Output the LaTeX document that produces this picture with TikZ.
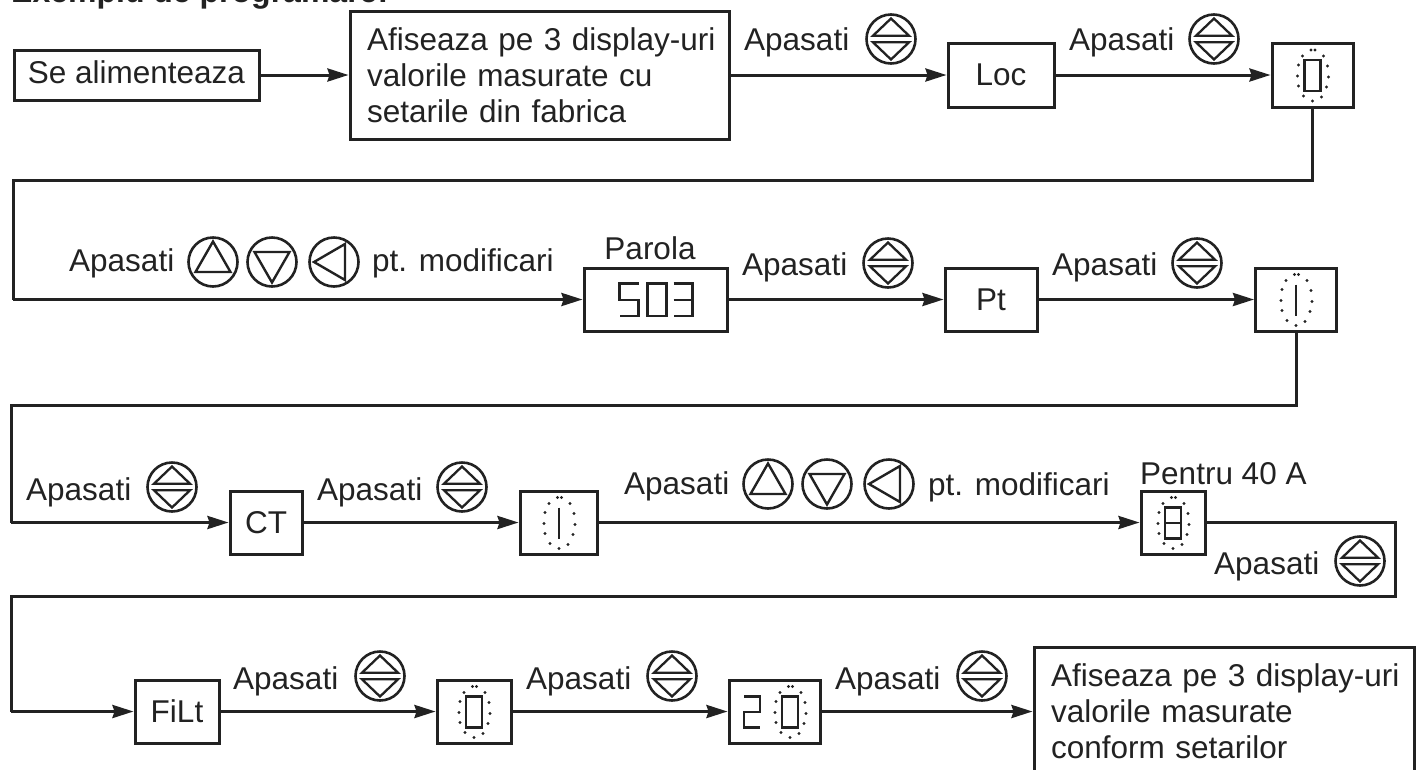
\documentclass[tikz,border=0pt]{standalone}
\usepackage{fontspec}
\setmainfont{Liberation Sans}
\usetikzlibrary{arrows.meta}
\definecolor{ink}{HTML}{222222}
\newcommand{\mainsize}{\fontsize{31.5}{36}\selectfont}
\tikzset{
  x=1pt,y=-1pt,
  every node/.style={text=ink,inner sep=0pt},
  linew/.style={line width=3pt,draw=ink,line join=miter},
  conn/.style={linew,-{Stealth[length=21pt,width=13pt,inset=2pt]}},
  wire/.style={linew},
  boxn/.style={linew,rectangle,font=\mainsize,align=left,anchor=center},
  lbl/.style={anchor=base west,font=\mainsize},
  pics/updown/.style={code={
    \draw[ink,line width=2.6pt] (0,0) circle[radius=24.5];
    \draw[ink,line width=2.3pt,line join=miter] (-18,-3.3) -- (18,-3.3) -- (0,-20.5) -- cycle;
    \draw[ink,line width=2.3pt,line join=miter] (-18,3.3) -- (18,3.3) -- (0,20.5) -- cycle;}},
  pics/upb/.style={code={
    \draw[ink,line width=2.6pt] (0,0) circle[radius=24.5];
    \draw[ink,line width=2.4pt,line join=miter] (-17.5,10) -- (17.5,10) -- (0,-20.5) -- cycle;}},
  pics/downb/.style={code={
    \draw[ink,line width=2.6pt] (0,0) circle[radius=24.5];
    \draw[ink,line width=2.4pt,line join=miter] (-17.5,-10) -- (17.5,-10) -- (0,20.5) -- cycle;}},
  pics/leftb/.style={code={
    \draw[ink,line width=2.6pt] (0,0) circle[radius=24.5];
    \draw[ink,line width=2.4pt,line join=miter] (11,-18) -- (11,18) -- (-20,0) -- cycle;}},
  pics/ring/.style={code={
    \foreach \dx/\dy in {-1.5/-25,2.5/-25,-10/-19,11/-19,-14/-10,15/-9,-15/1,16/2,-14/11,14/12,-9/21,9/22,0/26}
      \fill[ink] (\dx,\dy) circle[radius=1.7];}},
  seg/.style={draw=ink,line width=2.6pt,line join=miter},
  pics/dzero/.style={code={\draw[seg] (-8,-15) rectangle (8,16);}},
  pics/done/.style={code={\draw[seg] (0,-15) -- (0,16);}},
  pics/deight/.style={code={\draw[seg] (-8,-15) rectangle (8,16) (-8,0.5) -- (8,0.5);}},
  pics/dtwo/.style={code={\draw[seg] (-8,-15) -- (8,-15) -- (8,0.5) -- (-8,0.5) -- (-8,16) -- (8,16);}},
  pics/dfive/.style={code={\draw[seg] (9.5,-16) -- (-9.5,-16) -- (-9.5,0.5) -- (9.5,0.5) -- (9.5,16.5) -- (-9.5,16.5);}},
  pics/dzerob/.style={code={\draw[seg] (-9.5,-16) rectangle (9.5,16.5);}},
  pics/dthree/.style={code={\draw[seg] (-9.5,-16) -- (9.5,-16) -- (9.5,16.5) -- (-9.5,16.5) (-9.5,0.5) -- (9.5,0.5);}},
}
\begin{document}
\begin{tikzpicture}
\useasboundingbox (0,0) rectangle (1418,769);
\clip (0,0) rectangle (1418,769);
% title
\node[anchor=base west,font=\fontsize{32}{36}\selectfont\bfseries] (title) at (11,2) {Exemplu de programare:};
% row 1
\node[boxn,minimum width=245pt,minimum height=50pt,text height=24pt,text depth=8pt] (a1) at (136.5,75) {Se alimenteaza};
\node[boxn,minimum width=379pt,minimum height=128pt,text width=345pt] (a2) at (539.5,75) {\mbox{Afiseaza pe 3 display-uri}\\valorile masurate cu\\setarile din fabrica};
\node[boxn,minimum width=106pt,minimum height=64pt] (a3) at (1001,75) {Loc};
\node[boxn,minimum width=81pt,minimum height=64pt] (a4) at (1312.5,75) {};
\pic at (1312.5,75) {ring}; \pic at (1312.5,75) {dzero};
\draw[conn] (a1) -- (a2);
\draw[conn] (a2) -- (a3);
\draw[conn] (a3) -- (a4);
\node[lbl] (t1) at (744,50) {Apasati};
\pic at (891,39) {updown};
\node[lbl] (t2) at (1069,50) {Apasati};
\pic at (1214,39) {updown};
% row 2
\coordinate (c1) at (1312.5,180);
\coordinate (c2) at (13,180);
\coordinate (c3) at (13,299.5);
\node[boxn,minimum width=143pt,minimum height=63pt] (b1) at (655.5,299.5) {};
\pic at (629,299.5) {dfive}; \pic at (657,299.5) {dzerob}; \pic at (683,299.5) {dthree};
\node[anchor=base,font=\mainsize] (parola) at (650,259) {Parola};
\node[boxn,minimum width=92pt,minimum height=63pt] (b2) at (991,299.5) {Pt};
\node[boxn,minimum width=81pt,minimum height=63pt] (b3) at (1296,299.5) {};
\pic at (1296,299.5) {ring}; \pic at (1296,299.5) {done};
\draw[wire] (a4.south) -- (c1) -- (c2) -- (c3);
\draw[conn] (c3) -- (b1.west);
\draw[conn] (b1) -- (b2);
\draw[conn] (b2) -- (b3);
\node[lbl] (t3) at (69,271) {Apasati};
\pic at (213,262) {upb}; \pic at (272,262) {downb}; \pic at (334,262) {leftb};
\node[lbl] (t4) at (372,271) {pt. modificari};
\node[lbl] (t5) at (742,275) {Apasati};
\pic at (888,263) {updown};
\node[lbl] (t6) at (1052,275) {Apasati};
\pic at (1197,263) {updown};
% row 3
\coordinate (d1) at (1296,405);
\coordinate (d2) at (11,405);
\coordinate (d3) at (11,522.5);
\node[boxn,minimum width=72pt,minimum height=63pt] (e3) at (266,522.5) {CT};
\node[boxn,minimum width=77pt,minimum height=63pt] (e4) at (558.5,522.5) {};
\pic at (559,522.5) {ring}; \pic at (559,522.5) {done};
\node[boxn,minimum width=64pt,minimum height=63pt] (e5) at (1173,522.5) {};
\pic at (1173,522.5) {ring}; \pic at (1173,522.5) {deight};
\draw[wire] (b3.south) -- (d1) -- (d2) -- (d3);
\draw[conn] (d3) -- (e3);
\draw[conn] (e3) -- (e4);
\draw[conn] (e4) -- (e5);
\node[lbl] (t7) at (26,500) {Apasati};
\pic at (172,487) {updown};
\node[lbl] (t8) at (317,500) {Apasati};
\pic at (462,487) {updown};
\node[lbl] (t9) at (624,494) {Apasati};
\pic at (768,484) {upb}; \pic at (827,484) {downb}; \pic at (889,484) {leftb};
\node[lbl] (t10) at (928,495) {pt. modificari};
\node[lbl] (t11) at (1140,484) {Pentru 40 A};
\node[lbl] (t12) at (1214,574) {Apasati};
\pic at (1360,561) {updown};
% row 4
\coordinate (g1) at (1395,522.5);
\coordinate (g2) at (1395,596);
\coordinate (g3) at (11,596);
\coordinate (g4) at (11,711.5);
\node[boxn,minimum width=84pt,minimum height=63pt] (f1) at (177,711.5) {FiLt};
\node[boxn,minimum width=74pt,minimum height=63pt] (f2) at (474,711.5) {};
\pic at (474,711.5) {ring}; \pic at (474,711.5) {dzero};
\node[boxn,minimum width=91pt,minimum height=63pt] (f3) at (774.5,711.5) {};
\pic at (790,711.5) {ring}; \pic at (790,711.5) {dzero}; \pic at (752,711.5) {dtwo};
\node[boxn,minimum width=380pt,minimum height=128pt,text width=346pt] (f4) at (1224,711.5) {\mbox{Afiseaza pe 3 display-uri}\\valorile masurate\\conform setarilor};
\draw[wire] (e5.east) -- (g1) -- (g2) -- (g3) -- (g4);
\draw[conn] (g4) -- (f1);
\draw[conn] (f1) -- (f2);
\draw[conn] (f2) -- (f3);
\draw[conn] (f3) -- (f4);
\node[lbl] (t13) at (233,689) {Apasati};
\pic at (380,676) {updown};
\node[lbl] (t14) at (526,689) {Apasati};
\pic at (672,676) {updown};
\node[lbl] (t15) at (835,689) {Apasati};
\pic at (982,676) {updown};
\end{tikzpicture}
\end{document}
